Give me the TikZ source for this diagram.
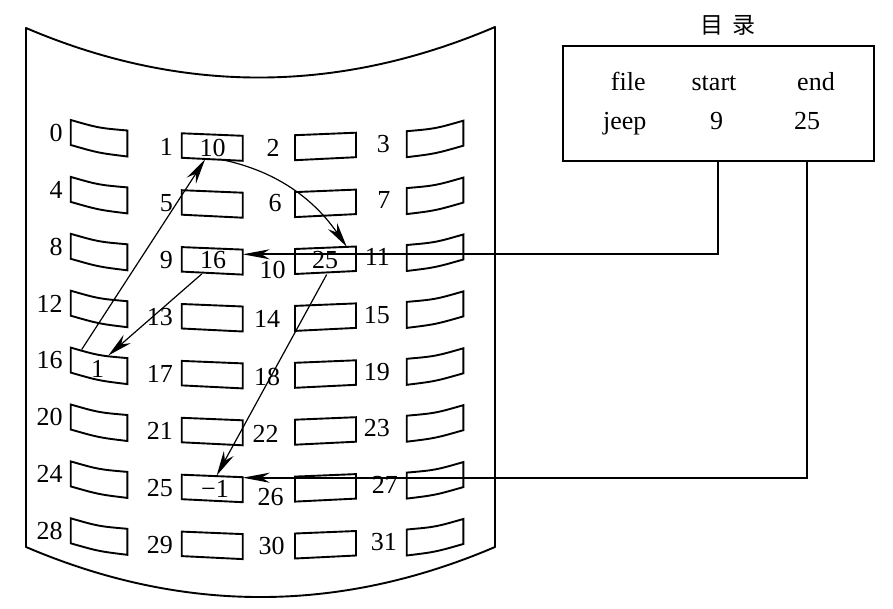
\documentclass[tikz,border=0pt]{standalone}
\usepackage{fontspec}
\setmainfont{Liberation Serif}
\newfontfamily\cjk{Noto Sans CJK SC}
\usetikzlibrary{arrows.meta}
\begin{document}
\begin{tikzpicture}[x=1pt,y=-1pt,
  outline/.style={line width=1.9pt, line join=round},
  blk/.style={line width=1.9pt, line join=miter},
  num/.style={inner sep=0pt, font=\fontsize{26}{28}\selectfont},
  dirtext/.style={inner sep=0pt, anchor=base, font=\fontsize{26}{28}\selectfont},
  conn/.style={line width=1.2pt, -{Stealth[length=25pt,width=11pt,inset=8pt]}},
  link/.style={line width=1.8pt, -{Stealth[length=27pt,width=10pt,inset=8pt]}},
]
\useasboundingbox (0,0) rectangle (893,609);

% disk surface
\draw[outline] (26,28) .. controls (182.3,94.7) and (338.7,93.7) .. (495,27)
  -- (495,547) .. controls (338.7,613.7) and (182.3,613.7) .. (26,547) -- cycle;

% blocks
\foreach \i in {0,...,7} {
  \pgfmathsetmacro\ya{120+56.9*\i}
  \pgfmathsetmacro\yb{120.7+56.9*\i}
  \pgfmathsetmacro\yc{133.3+56.9*\i}
  \pgfmathsetmacro\yd{132.7+56.9*\i}
  \draw[blk, shift={(70.7,\ya)}] (0,0) .. controls (28,8) .. (56.6,10.5) -- (56.6,36.5) .. controls (28,33) .. (0,25) -- cycle;
  \draw[blk, shift={(463.3,\yb)}, xscale=-1] (0,0) .. controls (28,8) .. (56.6,10.5) -- (56.6,36.5) .. controls (28,33) .. (0,25) -- cycle;
  \draw[blk, shift={(181.7,\yc)}] (0,0) .. controls (30,1) .. (61,2.5) -- (61,27.5) .. controls (30,25.5) .. (0,24.5) -- cycle;
  \draw[blk, shift={(356,\yd)}, xscale=-1] (0,0) .. controls (30,1) .. (61,2.5) -- (61,27.5) .. controls (30,25.5) .. (0,24.5) -- cycle;
}

% block numbers, column 0
\foreach \t [count=\k from 0] in {0,4,8,12,16,20,24,28} {
  \pgfmathsetmacro\yy{132.7+56.9*\k}
  \node[num, anchor=east] (n\t) at (62.7,\yy) {\t};
}
% column 1
\foreach \t [count=\k from 0] in {1,5,9,13,17,21,25,29} {
  \pgfmathsetmacro\yy{146.7+56.9*\k}
  \node[num, anchor=east] (n\t) at (173,\yy) {\t};
}
% column 2
\foreach \t/\x/\y in {2/273/147.7, 6/275/203, 10/272.5/270, 14/267/319, 18/267/376.7, 22/265.5/434, 26/270.5/497.3, 30/271.5/545.7} {
  \node[num] (n\t) at (\x,\y) {\t};
}
% column 3
\foreach \t/\x/\y in {3/390/144, 7/390.5/200, 11/390/256.7, 15/390/315, 19/390/371.7, 23/390/428.3, 27/398/485, 31/397/541.7} {
  \node[num, anchor=east] (n\t) at (\x,\y) {\t};
}

% block contents
\node[num] (v1) at (212.5,148) {10};
\node[num] (v9) at (213,259.7) {16};
\node[num] (v10) at (325,259.7) {25};
\node[num] (v16) at (97.5,369) {1};
\node[num] (v25) at (215,489) {−1};

% directory
\node[inner sep=0pt, font=\fontsize{23}{25}\selectfont\cjk] (ttl) at (727.5,25.5) {目\kern9pt录};
\node[draw, line width=1.9pt, minimum width=311pt, minimum height=115pt, inner sep=0pt, anchor=north west] (dir) at (561.7,45) {};
\node[dirtext] (hfile) at (628.3,90.7) {file};
\node[dirtext] (hstart) at (714,90.7) {start};
\node[dirtext] (hend) at (816,90.7) {end};
\node[dirtext] (vfile) at (624.7,129.3) {jeep};
\node[dirtext] (vstart) at (716.7,129.3) {9};
\node[dirtext] (vend) at (807,129.3) {25};

% connector end points
\coordinate (ds) at (717.7,160);
\coordinate (de) at (806.7,160);
\coordinate (b9e) at (242.7,254.3);
\coordinate (b25e) at (242.7,477.7);
\coordinate (b10s) at (326.7,274.5);
\coordinate (b25n) at (216.7,475.5);
\coordinate (b9s) at (201.7,274);
\coordinate (b16n) at (108.3,355.5);
\coordinate (b16a) at (81.7,349.5);
\coordinate (b1s) at (205,159.5);
\coordinate (b1c) at (220,159.3);
\coordinate (b10n) at (346.7,246.7);

% connectors
\draw[link] (ds) |- (b9e);
\draw[link] (de) |- (b25e);
\draw[conn] (b10s) -- (b25n);
\draw[conn] (b9s) -- (b16n);
\draw[conn] (b16a) -- (b1s);
\draw[conn] (b1c) .. controls (283,172) and (318,205) .. (b10n);
\end{tikzpicture}
\end{document}
